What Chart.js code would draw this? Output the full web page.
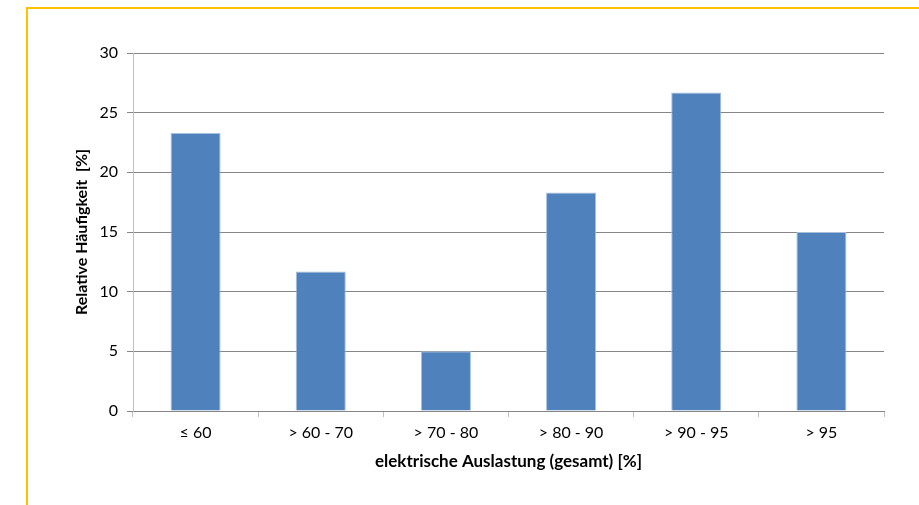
<!DOCTYPE html>
<html>
<head>
<meta charset="utf-8">
<script src="https://cdn.jsdelivr.net/npm/chart.js@4/dist/chart.umd.min.js"></script>
<style>
  html, body { margin: 0; padding: 0; background: #fff; }
  #wrap { width: 919px; height: 505px; position: relative; }
</style>
</head>
<body>
<div id="wrap"><canvas id="chart" width="919" height="505"></canvas></div>
<script>
// data
const categories = ["\u2264 60", "> 60 - 70", "> 70 - 80", "> 80 - 90", "> 90 - 95", "> 95"];
const values = [23.3, 11.7, 5.0, 18.3, 26.7, 15.0];
const yTicks = [0, 5, 10, 15, 20, 25, 30];

const FONT = "Lato, 'Open Sans', sans-serif";

// orange frame around the chart
const framePlugin = {
  id: 'frame',
  beforeDraw(chart) {
    const ctx = chart.ctx;
    ctx.save();
    ctx.fillStyle = '#fff';
    ctx.fillRect(0, 0, chart.width, chart.height);
    ctx.strokeStyle = '#FFC000';
    ctx.lineWidth = 2;
    ctx.beginPath();
    ctx.moveTo(27, chart.height + 2);
    ctx.lineTo(27, 8);
    ctx.lineTo(chart.width + 2, 8);
    ctx.stroke();
    ctx.restore();
  }
};

const ctx = document.getElementById("chart").getContext("2d");

new Chart(ctx, {
  type: "bar",
  data: {
    labels: categories,
    datasets: [{
      data: values,
      backgroundColor: '#4F81BD',
      borderColor: '#A7C0DE',
      borderWidth: 1,
      categoryPercentage: 0.8,
      barPercentage: 0.5
    }]
  },
  options: {
    responsive: false,
    animation: false,
    layout: { padding: { left: 68, top: 53, right: 35, bottom: 29 } },
    plugins: {
      legend: { display: false },
      tooltip: { enabled: false }
    },
    scales: {
      x: {
        offset: true,
        grid: { offset: true, drawOnChartArea: false, tickLength: 6, color: '#BFBFBF' },
        border: { color: '#868686' },
        ticks: { color: '#000', font: { family: FONT, size: 16 }, padding: 6 },
        title: {
          display: true, text: "elektrische Auslastung (gesamt) [%]", color: '#000',
          font: { family: FONT, size: 17, weight: 'bold' }
        },
        afterFit(scale) { scale.height = 65; }
      },
      y: {
        min: 0, max: 30,
        afterBuildTicks(scale) { scale.ticks = yTicks.map(v => ({ value: v })); },
        grid: { color: '#868686', tickLength: 6 },
        border: { color: '#BFBFBF' },
        ticks: { color: '#000', font: { family: FONT, size: 16 }, padding: 9 },
        title: {
          display: true, text: "Relative H\u00e4ufigkeit  [%]", color: '#000',
          font: { family: FONT, size: 16, weight: 'bold' }
        },
        afterFit(scale) { scale.width = 65; }
      }
    }
  },
  plugins: [framePlugin]
});
</script>
</body>
</html>
